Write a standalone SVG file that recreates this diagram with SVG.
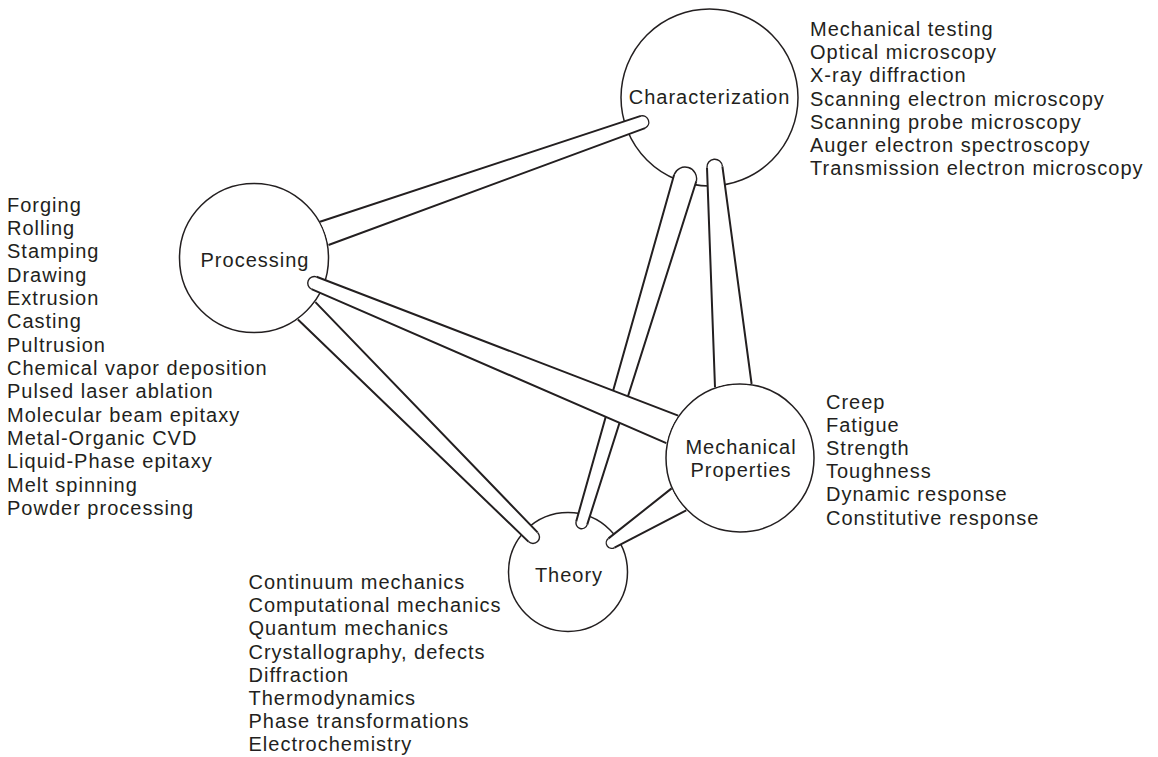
<svg xmlns="http://www.w3.org/2000/svg" width="1158" height="757" viewBox="0 0 1158 757">
<style>
.bg{fill:#ffffff}
.node circle{fill:#ffffff;stroke:#231f20;stroke-width:1.5}
text{font-family:"Liberation Sans",Arial,Helvetica,sans-serif;font-size:20px;letter-spacing:1px;fill:#231f20}
.lbl{text-anchor:middle}
.fill{fill:#ffffff;stroke:none}
.side{fill:none;stroke:#231f20;stroke-width:2}
.cap{fill:none;stroke:#231f20;stroke-width:1.4}
</style>
<rect class="bg" x="0" y="0" width="1158" height="757"/>

<g id="node-characterization" class="node">
  <circle cx="709.5" cy="97.5" r="88.5"/>
  <text class="lbl" x="709.5" y="104">Characterization</text>
  <text x="810" y="36">
    <tspan x="810" y="36">Mechanical testing</tspan>
    <tspan x="810" y="59.2">Optical microscopy</tspan>
    <tspan x="810" y="82.4">X-ray diffraction</tspan>
    <tspan x="810" y="105.6">Scanning electron microscopy</tspan>
    <tspan x="810" y="128.8">Scanning probe microscopy</tspan>
    <tspan x="810" y="152">Auger electron spectroscopy</tspan>
    <tspan x="810" y="175.2">Transmission electron microscopy</tspan>
  </text>
</g>

<g id="node-processing" class="node">
  <circle cx="254" cy="258" r="74.5"/>
  <text class="lbl" x="255" y="267">Processing</text>
  <text x="7" y="211.7">
    <tspan x="7" y="211.7">Forging</tspan>
    <tspan x="7" y="235">Rolling</tspan>
    <tspan x="7" y="258.4">Stamping</tspan>
    <tspan x="7" y="281.7">Drawing</tspan>
    <tspan x="7" y="305">Extrusion</tspan>
    <tspan x="7" y="328.4">Casting</tspan>
    <tspan x="7" y="351.7">Pultrusion</tspan>
    <tspan x="7" y="375">Chemical vapor deposition</tspan>
    <tspan x="7" y="398.3">Pulsed laser ablation</tspan>
    <tspan x="7" y="421.7">Molecular beam epitaxy</tspan>
    <tspan x="7" y="445">Metal-Organic CVD</tspan>
    <tspan x="7" y="468.3">Liquid-Phase epitaxy</tspan>
    <tspan x="7" y="491.7">Melt spinning</tspan>
    <tspan x="7" y="515">Powder processing</tspan>
  </text>
</g>

<g id="node-mechanical-properties" class="node">
  <circle cx="740" cy="458" r="74"/>
  <text class="lbl" x="741" y="454">Mechanical</text>
  <text class="lbl" x="741" y="477">Properties</text>
  <text x="826" y="408.5">
    <tspan x="826" y="408.5">Creep</tspan>
    <tspan x="826" y="431.7">Fatigue</tspan>
    <tspan x="826" y="454.9">Strength</tspan>
    <tspan x="826" y="478.1">Toughness</tspan>
    <tspan x="826" y="501.3">Dynamic response</tspan>
    <tspan x="826" y="524.5">Constitutive response</tspan>
  </text>
</g>

<g id="node-theory" class="node">
  <circle cx="568" cy="572" r="59.5"/>
  <text class="lbl" x="569" y="582">Theory</text>
  <text x="248.5" y="589">
    <tspan x="248.5" y="589">Continuum mechanics</tspan>
    <tspan x="248.5" y="612.2">Computational mechanics</tspan>
    <tspan x="248.5" y="635.4">Quantum mechanics</tspan>
    <tspan x="248.5" y="658.6">Crystallography, defects</tspan>
    <tspan x="248.5" y="681.8">Diffraction</tspan>
    <tspan x="248.5" y="705">Thermodynamics</tspan>
    <tspan x="248.5" y="728.2">Phase transformations</tspan>
    <tspan x="248.5" y="751.4">Electrochemistry</tspan>
  </text>
</g>

<g id="connectors">
  <g id="conn-characterization-theory">
    <path class="fill" d="M674.1,174.7 L576.2,521.4 A5.7,5.7 0 0 0 587.2,524.6 L696.3,181.3 A11.6,11.6 0 0 0 674.1,174.7 Z"/>
    <path class="side" d="M674.1,174.7 L576.2,521.4 M587.2,524.6 L696.3,181.3"/>
    <path class="cap" d="M576.2,521.4 A5.7,5.7 0 0 0 587.2,524.6 M696.3,181.3 A11.6,11.6 0 0 0 674.1,174.7"/>
  </g>
  <g id="conn-processing-characterization">
    <path class="fill" d="M640.9,115.9 L320.0,221.7 A75.5,75.5 0 0 1 328.5,245.0 L645.1,128.1 A6.5,6.5 0 0 0 640.9,115.9 Z"/>
    <path class="side" d="M640.9,115.9 L320.0,221.7 M328.5,245.0 L645.1,128.1"/>
    <path class="cap" d="M645.1,128.1 A6.5,6.5 0 0 0 640.9,115.9"/>
  </g>
  <g id="conn-processing-theory">
    <path class="fill" d="M537.6,532.4 L315.4,302.1 A75.5,75.5 0 0 1 297.9,319.5 L528.4,541.6 A6.5,6.5 0 0 0 537.6,532.4 Z"/>
    <path class="side" d="M537.6,532.4 L315.4,302.1 M297.9,319.5 L528.4,541.6"/>
    <path class="cap" d="M528.4,541.6 A6.5,6.5 0 0 0 537.6,532.4"/>
  </g>
  <g id="conn-characterization-mechanical">
    <path class="fill" d="M707.0,167.7 L715.0,387.3 A75,75 0 0 1 751.6,384.0 L722.4,166.3 A7.7,7.7 0 0 0 707.0,167.7 Z"/>
    <path class="side" d="M707.0,167.7 L715.0,387.3 M751.6,384.0 L722.4,166.3"/>
    <path class="cap" d="M722.4,166.3 A7.7,7.7 0 0 0 707.0,167.7"/>
  </g>
  <g id="conn-theory-mechanical">
    <path class="fill" d="M608.5,538.4 L671.6,488.4 A75,75 0 0 0 686.2,510.3 L614.5,547.6 A5.5,5.5 0 0 1 608.5,538.4 Z"/>
    <path class="side" d="M608.5,538.4 L671.6,488.4 M686.2,510.3 L614.5,547.6"/>
    <path class="cap" d="M614.5,547.6 A5.5,5.5 0 0 1 608.5,538.4"/>
  </g>
  <g id="conn-processing-mechanical">
    <path class="fill" d="M316.5,276.8 L678.2,415.6 A75,75 0 0 0 666.3,443.1 L311.5,289.2 A6.7,6.7 0 0 1 316.5,276.8 Z"/>
    <path class="side" d="M316.5,276.8 L678.2,415.6 M666.3,443.1 L311.5,289.2"/>
    <path class="cap" d="M311.5,289.2 A6.7,6.7 0 0 1 316.5,276.8"/>
  </g>
</g>
</svg>
